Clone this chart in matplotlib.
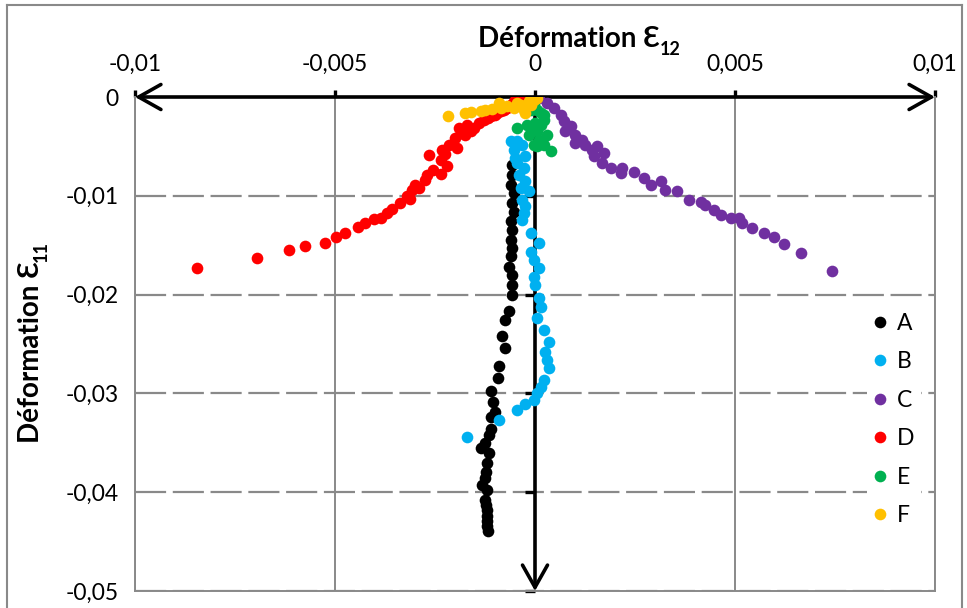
import numpy as np
import matplotlib
matplotlib.use('Agg')
import matplotlib.pyplot as plt
from matplotlib.markers import TICKLEFT

plt.rcParams['font.family'] = ['Lato', 'DejaVu Sans']

# strain values (x = eps12, y = eps11)
A_x = [-0.00057, -0.00057, -0.00061, -0.00053, -0.00057, -0.00053, -0.00061, -0.00057, -0.00061,
       -0.00057, -0.00061, -0.00066, -0.00057, -0.00057, -0.00057, -0.00066, -0.00074, -0.00083,
       -0.00074, -0.0009, -0.00093, -0.0011, -0.00105, -0.00099, -0.00109, -0.00111, -0.00116,
       -0.00126, -0.00136, -0.00114, -0.0012, -0.00122, -0.00125, -0.00132, -0.0012, -0.00124,
       -0.00122, -0.0012, -0.00121, -0.0012, -0.00119, -0.00118]
A_y = [-0.00686, -0.00787, -0.00889, -0.0097, -0.01074, -0.01159, -0.0126, -0.01344, -0.01446,
       -0.0153, -0.01612, -0.01716, -0.018, -0.01902, -0.02003, -0.02165, -0.02256, -0.02418,
       -0.02543, -0.02722, -0.02849, -0.02971, -0.03084, -0.03193, -0.03236, -0.03361, -0.03421,
       -0.03497, -0.03548, -0.03607, -0.037, -0.03793, -0.0386, -0.03928, -0.03979, -0.0408,
       -0.0413, -0.04181, -0.0424, -0.04293, -0.0434, -0.04394]

B_x = [-0.00061, -0.00045, -0.00053, -0.00049, -0.00032, -0.00024, -0.00045, -0.00028, -0.0004,
       -0.00024, -0.00036, -0.00016, -0.00032, -0.00024, -0.00028, -0.00032, -0.00011, 0.0001,
       -0.00011, -0.00003, 0.0001, -0.00003, 0.00001, 0.0001, 0.00014, 0.00005, 0.00022, 0.00035,
       0.00026, 0.0003, 0.00035, 0.00022, 0.00014, 0.00005, -0.00003, -0.00024, -0.00045, -0.0009,
       -0.0017]
B_y = [-0.0045, -0.0045, -0.00534, -0.00615, -0.00483, -0.00602, -0.00669, -0.00719, -0.00787,
       -0.00855, -0.00922, -0.00956, -0.01041, -0.01108, -0.01172, -0.01243, -0.01378, -0.01479,
       -0.01564, -0.01648, -0.01733, -0.01818, -0.01902, -0.02036, -0.02122, -0.02239, -0.02358,
       -0.02476, -0.02577, -0.02662, -0.02746, -0.02864, -0.02932, -0.02999, -0.03067, -0.03107,
       -0.03168, -0.0327, -0.03439]

C_x = [0.00009, 0.0003, 0.00047, 0.00064, 0.00072, 0.00076, 0.00089, 0.00101, 0.00101, 0.00118,
       0.00126, 0.00143, 0.00156, 0.00147, 0.00172, 0.00168, 0.00189, 0.00218, 0.00214, 0.00247,
       0.00272, 0.00289, 0.00314, 0.00326, 0.00356, 0.00385, 0.00414, 0.00426, 0.00447, 0.00464,
       0.00489, 0.00509, 0.00518, 0.00543, 0.00572, 0.00597, 0.00622, 0.00664, 0.00743]
C_y = [-0.0001, -0.00061, -0.00112, -0.00179, -0.00247, -0.00348, -0.00298, -0.00382, -0.00466,
       -0.00433, -0.00483, -0.00534, -0.005, -0.00602, -0.00567, -0.00669, -0.00719, -0.00719,
       -0.0077, -0.0076, -0.00821, -0.00889, -0.00855, -0.00939, -0.00956, -0.01041, -0.01058,
       -0.01091, -0.01142, -0.01193, -0.01226, -0.01226, -0.01277, -0.01327, -0.01378, -0.01422,
       -0.01489, -0.01574, -0.0176]

D_x = [-0.00844, -0.00696, -0.00614, -0.00576, -0.00524, -0.00497, -0.00474, -0.00442, -0.00424,
       -0.00403, -0.00385, -0.00371, -0.00357, -0.00338, -0.00313, -0.0032, -0.00307, -0.00299,
       -0.0029, -0.00276, -0.0027, -0.00255, -0.00236, -0.0022, -0.00266, -0.00236, -0.00232,
       -0.00225, -0.00216, -0.00195, -0.00199, -0.0019, -0.00185, -0.00174, -0.0017, -0.00153,
       -0.0016, -0.0014, -0.00128, -0.00118, -0.00111, -0.001, -0.00095, -0.00085, -0.00078,
       -0.0007, -0.00061, -0.00055, -0.00049, -0.00036]
D_y = [-0.01733, -0.0163, -0.01547, -0.0151, -0.01473, -0.01412, -0.01378, -0.01317, -0.01277,
       -0.01233, -0.0122, -0.01175, -0.01132, -0.01074, -0.01034, -0.01, -0.00939, -0.00889,
       -0.0092, -0.00838, -0.00787, -0.00737, -0.0078, -0.00703, -0.00585, -0.00635, -0.00534,
       -0.0058, -0.00483, -0.00517, -0.00416, -0.00314, -0.0036, -0.00382, -0.00281, -0.00314,
       -0.0034, -0.00264, -0.0023, -0.0021, -0.00196, -0.0018, -0.00162, -0.0014, -0.00129,
       -0.0011, -0.00078, -0.0006, -0.00027, -0.0001]

E_x = [-0.00003, 0.00005, 0.00014, 0.00022, -0.00011, -0.0002, 0.00001, 0.00022, 0.00014, -0.00045,
       -0.00011, 0.00005, 0.0003, -0.00016, 0.0001, 0.00018, 0.00022, -0.00003, 0.00005, 0.00039]
E_y = [-0.00078, -0.00129, -0.00162, -0.00179, -0.00129, -0.00281, -0.00263, -0.0023, -0.00281,
       -0.00314, -0.00314, -0.00348, -0.00382, -0.00382, -0.00433, -0.0045, -0.00483, -0.00483,
       -0.005, -0.00551]

F_x = [-0.00218, -0.00174, -0.00161, -0.00136, -0.00124, -0.00107, -0.0009, -0.00086, -0.0007,
       -0.00053, -0.00045, -0.00036, -0.00028, -0.00024, -0.00016, -0.00011, -0.00003, 0.00005]
F_y = [-0.00196, -0.00162, -0.00152, -0.00146, -0.00129, -0.00118, -0.00061, -0.00112, -0.00095,
       -0.00112, -0.00061, -0.00078, -0.00129, -0.00162, -0.00045, -0.00078, -0.00027, -0.0001]

names = ['A', 'B', 'C', 'D', 'E', 'F']
colors = ['#000000', '#00B0F0', '#7030A0', '#FF0000', '#00B050', '#FFC000']
series_x = [A_x, B_x, C_x, D_x, E_x, F_x]
series_y = [A_y, B_y, C_y, D_y, E_y, F_y]

x_ticks = [-0.01, -0.005, 0, 0.005, 0.01]
x_labels = ['-0,01', '-0,005', '0', '0,005', '0,01']
y_ticks = [0, -0.01, -0.02, -0.03, -0.04, -0.05]
y_labels = ['0', '-0,01', '-0,02', '-0,03', '-0,04', '-0,05']

W, H = 967, 608
fig = plt.figure(figsize=(W / 100, H / 100), dpi=100)
ax = fig.add_axes([135 / W, 1 - 591 / H, 800 / W, 494 / H])
grey = '#898989'

for x, y, c, n in zip(series_x, series_y, colors, names):
    ax.plot(x, y, 'o', color=c, ms=8.4, mew=0, label=n, zorder=3)

ax.set_xlim(-0.01, 0.01)
ax.set_ylim(-0.05, 0)
ax.set_axisbelow(True)

ax.xaxis.tick_top()
ax.set_xticks(x_ticks)
ax.set_xticklabels(x_labels)
ax.tick_params(axis='x', top=True, bottom=False, direction='out', length=5, width=2.4,
               color='black', labelsize=16.5, pad=11)
ax.set_yticks(y_ticks)
ax.set_yticklabels(y_labels)
ax.tick_params(axis='y', left=True, length=0, labelsize=16.5, pad=12)

ax.xaxis.grid(True, color=grey, lw=1.4, ls='-')
ax.yaxis.grid(True, color=grey, lw=1.6, ls=(0, (14, 3)))

for s in ['left', 'right', 'bottom']:
    ax.spines[s].set_color(grey)
    ax.spines[s].set_linewidth(1.4)
ax.spines['top'].set_visible(False)

# y tick marks sit on the vertical axis at x=0
ax.plot(np.zeros(len(y_ticks)), y_ticks, ls='none', marker=TICKLEFT, ms=7.5, mew=2.4,
        color='black', zorder=2, clip_on=False)

ax.annotate('', xy=(-0.01, 0), xytext=(0.01, 0), xycoords='data',
            arrowprops=dict(arrowstyle='<->,head_length=0.8,head_width=0.45', lw=2.6,
                            color='black', shrinkA=0, shrinkB=0, mutation_scale=20),
            annotation_clip=False, zorder=2)
ax.annotate('', xy=(0, -0.05), xytext=(0, 0), xycoords='data',
            arrowprops=dict(arrowstyle='->,head_length=0.8,head_width=0.45', lw=2.6,
                            color='black', shrinkA=0, shrinkB=0, mutation_scale=20),
            annotation_clip=False, zorder=2)

t1 = fig.text(478 / W, 1 - 39 / H, 'Déformation Ɛ', fontsize=20, fontweight='bold',
              ha='left', va='center')
ax.annotate('12', xy=(1, 0.1), xycoords=t1, fontsize=13, fontweight='bold',
            ha='left', va='center')
t2 = fig.text(31 / W, 1 - 443 / H, 'Déformation Ɛ', fontsize=20, fontweight='bold',
              rotation=90, ha='center', va='bottom')
ax.annotate('11', xy=(0.9, 1), xycoords=t2, fontsize=13, fontweight='bold',
            rotation=90, ha='center', va='bottom')

leg = ax.legend(loc='upper left', bbox_to_anchor=(867 / W, 1 - 306 / H),
                bbox_transform=fig.transFigure, frameon=True, fancybox=False,
                edgecolor='none', facecolor='white', framealpha=1, fontsize=16.5,
                handlelength=0.5, handletextpad=0.5, labelspacing=0.76, borderpad=0.3,
                borderaxespad=0, markerscale=1)

# chart border
for (x0, y0, x1, y1) in [(7, 5, 962, 5), (7, 5, 7, 608), (962, 5, 962, 608)]:
    fig.add_artist(plt.Line2D([x0 / W, x1 / W], [1 - y0 / H, 1 - y1 / H], color=grey, lw=1.5))

fig.savefig('out.png', dpi=100)
